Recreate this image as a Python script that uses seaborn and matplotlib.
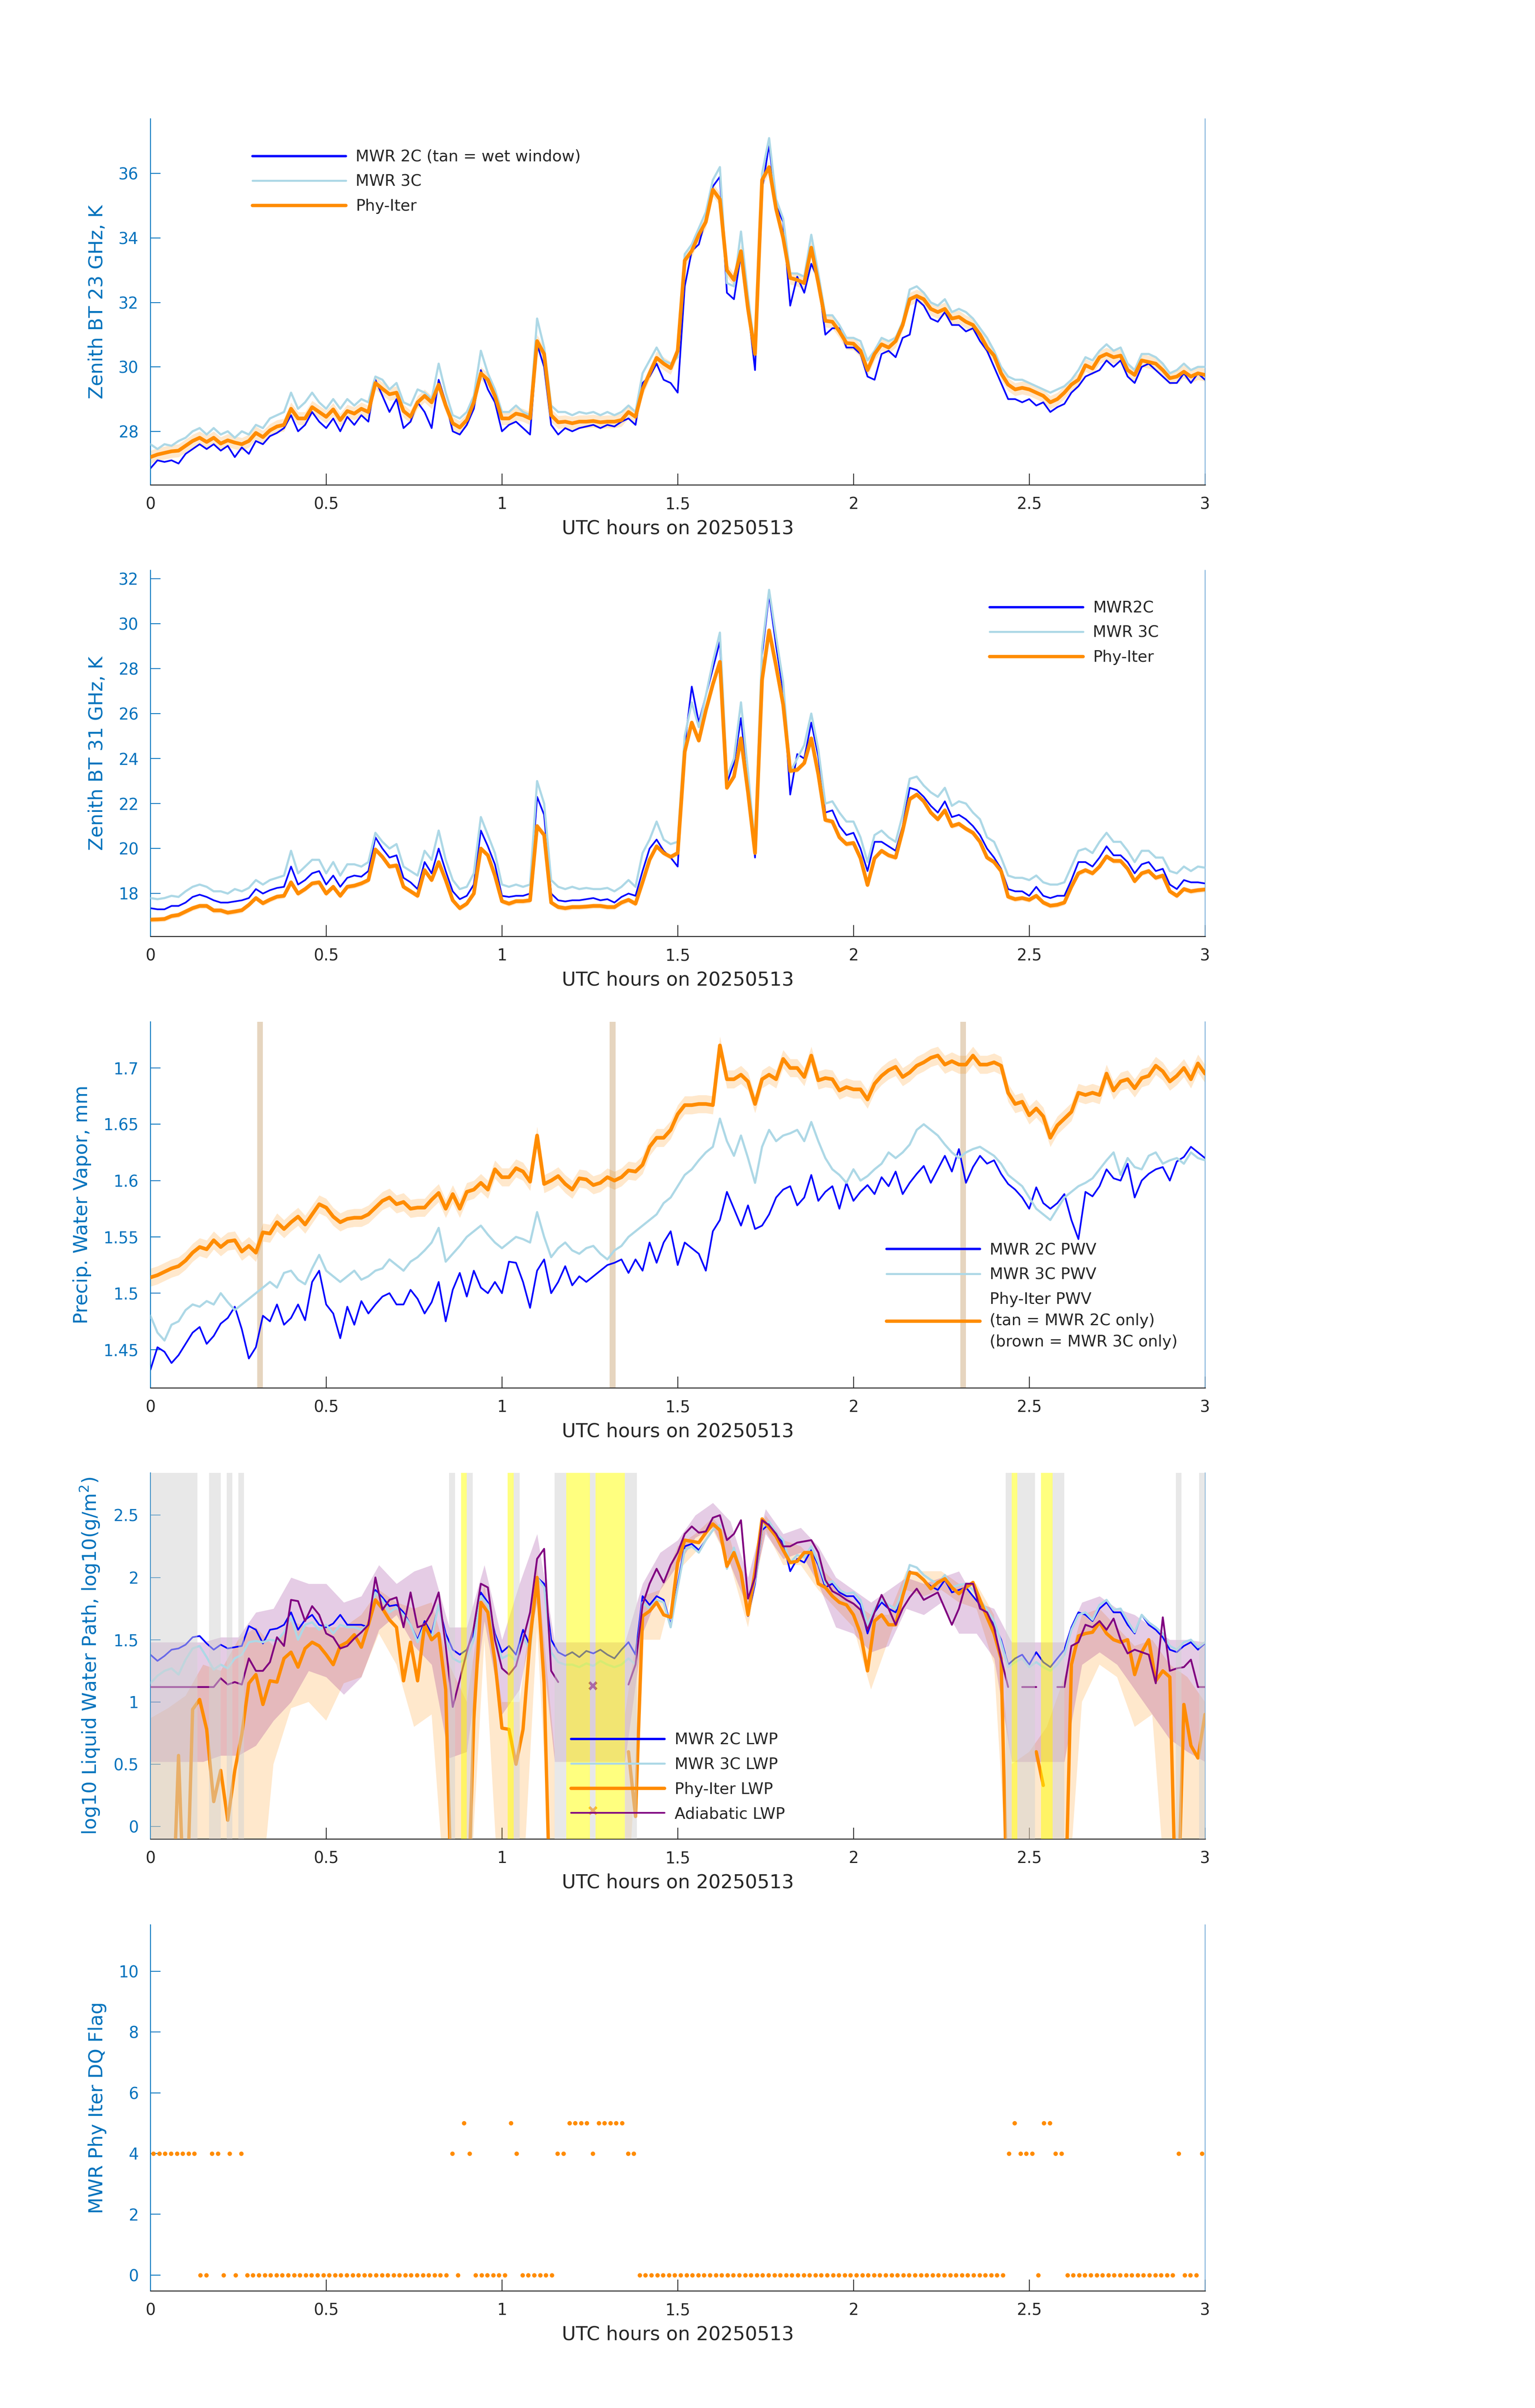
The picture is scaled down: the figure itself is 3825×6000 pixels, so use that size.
"""
Stacked MWR retrieval panels (23/31 GHz BT, PWV, LWP, DQ flag), 2025-05-13 00-03 UTC.
"""
import numpy as np
import matplotlib
matplotlib.use("Agg")
import matplotlib.pyplot as plt
import seaborn as sns
from matplotlib.lines import Line2D
from matplotlib.ticker import FuncFormatter

nan = np.nan

# traces sampled every 0.02 h
T_HOURS = np.round(np.arange(151) * 0.02, 2)

BT23_2C = [
    26.85, 27.10, 27.05, 27.10, 27.00, 27.30, 27.45, 27.60, 27.45, 27.60,
    27.40, 27.55, 27.20, 27.50, 27.30, 27.70, 27.60, 27.85, 27.95, 28.10,
    28.50, 28.00, 28.20, 28.60, 28.30, 28.10, 28.40, 28.00, 28.45, 28.20,
    28.50, 28.30, 29.60, 29.10, 28.60, 29.00, 28.10, 28.30, 28.90, 28.60,
    28.10, 29.60, 28.90, 28.00, 27.90, 28.20, 28.70, 29.90, 29.30, 28.90,
    28.00, 28.20, 28.30, 28.10, 27.90, 30.70, 30.00, 28.20, 27.90, 28.10,
    28.00, 28.10, 28.15, 28.20, 28.10, 28.20, 28.15, 28.30, 28.40, 28.20,
    29.50, 29.70, 30.10, 29.60, 29.50, 29.20, 32.50, 33.60, 33.80, 34.60,
    35.60, 35.90, 32.30, 32.10, 33.50, 31.80, 29.90, 35.50, 36.90, 35.00,
    34.50, 31.90, 32.80, 32.30, 33.20, 32.70, 31.00, 31.20, 31.20, 30.60,
    30.60, 30.40, 29.70, 29.60, 30.40, 30.50, 30.30, 30.90, 31.00, 32.10,
    31.90, 31.50, 31.40, 31.70, 31.30, 31.30, 31.10, 31.20, 30.80, 30.50,
    30.00, 29.50, 29.00, 29.00, 28.90, 29.00, 28.80, 28.90, 28.60, 28.75,
    28.85, 29.20, 29.40, 29.70, 29.80, 29.90, 30.20, 30.00, 30.20, 29.70,
    29.50, 30.00, 30.10, 29.90, 29.70, 29.50, 29.50, 29.80, 29.50, 29.80,
    29.60,
]
BT23_3C = [
    27.60, 27.45, 27.60, 27.55, 27.70, 27.80, 28.00, 28.10, 27.90, 28.10,
    27.90, 28.00, 27.80, 28.00, 27.90, 28.20, 28.10, 28.40, 28.50, 28.60,
    29.20, 28.70, 28.90, 29.20, 28.90, 28.70, 29.00, 28.70, 29.00, 28.80,
    29.00, 28.90, 29.70, 29.60, 29.30, 29.50, 28.90, 28.80, 29.30, 29.20,
    29.00, 30.10, 29.20, 28.50, 28.40, 28.60, 29.10, 30.50, 29.80, 29.30,
    28.60, 28.60, 28.80, 28.60, 28.50, 31.50, 30.60, 28.80, 28.60, 28.60,
    28.50, 28.60, 28.55, 28.60, 28.50, 28.60, 28.50, 28.60, 28.80, 28.60,
    29.80, 30.20, 30.60, 30.20, 30.10, 30.30, 33.50, 33.80, 34.30, 34.80,
    35.80, 36.20, 32.60, 32.50, 34.20, 32.20, 30.50, 36.00, 37.10, 35.20,
    34.60, 32.90, 32.90, 32.80, 34.10, 32.90, 31.60, 31.60, 31.30, 30.90,
    30.90, 30.80, 30.20, 30.50, 30.90, 30.80, 30.90, 31.40, 32.40, 32.50,
    32.30, 32.00, 31.90, 32.10, 31.70, 31.80, 31.70, 31.50, 31.20, 30.90,
    30.50, 30.00, 29.70, 29.60, 29.60, 29.50, 29.40, 29.30, 29.20, 29.30,
    29.40, 29.60, 29.90, 30.30, 30.20, 30.50, 30.70, 30.50, 30.60, 30.10,
    29.90, 30.40, 30.40, 30.30, 30.10, 29.80, 29.90, 30.10, 29.90, 30.00,
    30.00,
]
BT23_PHY = [
    27.20, 27.28, 27.33, 27.38, 27.40, 27.55, 27.70, 27.80, 27.67, 27.80,
    27.62, 27.72, 27.65, 27.60, 27.70, 27.95, 27.82, 28.03, 28.15, 28.20,
    28.70, 28.40, 28.40, 28.75, 28.60, 28.45, 28.68, 28.35, 28.63, 28.55,
    28.70, 28.60, 29.50, 29.32, 29.15, 29.20, 28.63, 28.45, 28.90, 29.10,
    28.90, 29.45, 28.80, 28.25, 28.12, 28.35, 28.90, 29.80, 29.60, 29.10,
    28.40, 28.40, 28.55, 28.50, 28.40, 30.80, 30.40, 28.50, 28.28, 28.30,
    28.25, 28.30, 28.30, 28.32, 28.28, 28.30, 28.30, 28.35, 28.60, 28.45,
    29.30, 29.80, 30.28, 30.10, 29.96, 30.50, 33.30, 33.60, 34.10, 34.50,
    35.50, 35.20, 33.00, 32.70, 33.59, 31.80, 30.40, 35.80, 36.20, 34.90,
    34.00, 32.76, 32.70, 32.60, 33.70, 32.60, 31.43, 31.40, 31.10, 30.74,
    30.72, 30.50, 29.90, 30.40, 30.70, 30.60, 30.80, 31.30, 32.10, 32.20,
    32.10, 31.80, 31.70, 31.80, 31.50, 31.55, 31.40, 31.30, 31.00, 30.60,
    30.35, 29.80, 29.45, 29.30, 29.35, 29.30, 29.20, 29.10, 28.90, 29.00,
    29.20, 29.45, 29.60, 30.05, 29.95, 30.30, 30.40, 30.30, 30.35, 29.90,
    29.75, 30.20, 30.15, 30.10, 29.90, 29.65, 29.70, 29.85, 29.70, 29.80,
    29.75,
]
BT23_PHY_SIG = 0.2

BT31_2C = [
    17.35, 17.30, 17.30, 17.45, 17.45, 17.60, 17.85, 17.95, 17.85, 17.70,
    17.60, 17.60, 17.65, 17.70, 17.80, 18.20, 18.00, 18.15, 18.25, 18.30,
    19.20, 18.40, 18.60, 18.90, 19.00, 18.40, 18.80, 18.30, 18.70, 18.80,
    18.75, 19.00, 20.50, 20.00, 19.60, 19.70, 18.70, 18.50, 18.20, 19.40,
    18.90, 20.00, 19.00, 18.10, 17.75, 17.90, 18.40, 20.80, 20.10, 19.30,
    17.90, 17.85, 17.90, 17.90, 18.00, 22.30, 21.50, 18.00, 17.70, 17.65,
    17.70, 17.70, 17.75, 17.80, 17.70, 17.75, 17.60, 17.85, 18.00, 17.90,
    19.00, 20.00, 20.40, 19.90, 19.60, 19.20, 24.60, 27.20, 25.60, 26.80,
    28.00, 29.20, 22.90, 23.80, 25.80, 22.80, 19.60, 28.60, 31.30, 29.00,
    27.00, 22.40, 24.20, 24.00, 25.60, 24.10, 21.60, 21.70, 21.00, 20.60,
    20.70, 20.00, 19.00, 20.30, 20.30, 20.10, 19.90, 21.00, 22.70, 22.60,
    22.30, 21.90, 21.60, 22.10, 21.40, 21.50, 21.30, 21.00, 20.60, 20.00,
    19.60, 19.10, 18.20, 18.10, 18.10, 17.90, 18.30, 17.90, 17.80, 17.90,
    17.90, 18.60, 19.40, 19.40, 19.20, 19.60, 20.10, 19.70, 19.70, 19.40,
    18.90, 19.30, 19.40, 19.00, 19.10, 18.40, 18.20, 18.60, 18.50, 18.50,
    18.45,
]
BT31_3C = [
    17.80, 17.75, 17.80, 17.90, 17.85, 18.10, 18.30, 18.40, 18.30, 18.10,
    18.10, 18.00, 18.20, 18.10, 18.25, 18.60, 18.40, 18.60, 18.70, 18.80,
    19.90, 18.90, 19.20, 19.50, 19.50, 18.90, 19.40, 18.80, 19.30, 19.30,
    19.20, 19.40, 20.70, 20.30, 20.00, 20.20, 19.20, 19.00, 18.80, 19.90,
    19.50, 20.80, 19.50, 18.60, 18.20, 18.30, 18.90, 21.40, 20.60, 19.80,
    18.40, 18.30, 18.40, 18.30, 18.40, 23.00, 22.00, 18.60, 18.30, 18.20,
    18.30, 18.20, 18.25, 18.20, 18.20, 18.25, 18.10, 18.30, 18.60, 18.30,
    19.80, 20.40, 21.20, 20.40, 20.20, 20.30, 25.00, 26.50, 25.40, 26.80,
    28.30, 29.60, 23.20, 24.00, 26.50, 23.40, 20.10, 28.90, 31.50, 29.40,
    27.40, 23.40, 24.00, 24.60, 26.00, 24.40, 22.00, 22.10, 21.60, 21.20,
    21.20, 20.50, 19.40, 20.60, 20.80, 20.50, 20.30, 21.50, 23.10, 23.20,
    22.80, 22.50, 22.30, 22.70, 21.90, 22.10, 22.00, 21.60, 21.30, 20.50,
    20.30, 19.60, 18.80, 18.70, 18.70, 18.60, 18.80, 18.50, 18.40, 18.40,
    18.50, 19.20, 19.90, 20.00, 19.80, 20.30, 20.70, 20.30, 20.30, 19.90,
    19.40, 19.90, 19.90, 19.60, 19.60, 19.00, 18.90, 19.20, 19.00, 19.20,
    19.15,
]
BT31_PHY = [
    16.84, 16.85, 16.87, 17.00, 17.05, 17.20, 17.35, 17.45, 17.45, 17.25,
    17.25, 17.15, 17.20, 17.26, 17.50, 17.80, 17.57, 17.73, 17.86, 17.90,
    18.50, 18.00, 18.20, 18.45, 18.50, 18.00, 18.30, 17.90, 18.30, 18.35,
    18.45, 18.60, 19.96, 19.63, 19.20, 19.25, 18.30, 18.10, 17.90, 19.04,
    18.60, 19.40, 18.60, 17.70, 17.35, 17.55, 18.00, 20.00, 19.70, 18.80,
    17.66, 17.55, 17.66, 17.66, 17.70, 21.00, 20.60, 17.60, 17.40, 17.35,
    17.40, 17.40, 17.42, 17.45, 17.45, 17.40, 17.40, 17.60, 17.72, 17.55,
    18.50, 19.50, 20.10, 19.80, 19.63, 19.80, 24.30, 25.60, 24.80, 26.14,
    27.30, 28.30, 22.70, 23.20, 24.90, 22.50, 19.80, 27.50, 29.70, 28.10,
    26.40, 23.45, 23.50, 23.80, 24.90, 23.30, 21.27, 21.20, 20.50, 20.20,
    20.25, 19.57, 18.38, 19.57, 19.90, 19.70, 19.60, 20.80, 22.20, 22.40,
    22.10, 21.60, 21.30, 21.70, 21.00, 21.10, 20.88, 20.70, 20.30, 19.60,
    19.40, 19.00, 17.86, 17.75, 17.80, 17.72, 17.90, 17.60, 17.46, 17.50,
    17.60, 18.30, 18.90, 19.04, 18.90, 19.20, 19.65, 19.45, 19.45, 19.10,
    18.55, 18.90, 19.00, 18.70, 18.80, 18.10, 17.90, 18.20, 18.10, 18.15,
    18.18,
]
BT31_PHY_SIG = 0.12

PWV_2C = [
    1.432, 1.452, 1.448, 1.438, 1.445, 1.455, 1.465, 1.470, 1.455, 1.462,
    1.473, 1.478, 1.488, 1.468, 1.442, 1.452, 1.480, 1.475, 1.490, 1.472,
    1.478, 1.490, 1.476, 1.510, 1.520, 1.490, 1.482, 1.460, 1.488, 1.472,
    1.493, 1.482, 1.490, 1.497, 1.500, 1.490, 1.490, 1.503, 1.495, 1.482,
    1.492, 1.510, 1.475, 1.503, 1.518, 1.497, 1.520, 1.505, 1.500, 1.510,
    1.500, 1.528, 1.527, 1.510, 1.487, 1.520, 1.530, 1.500, 1.510, 1.524,
    1.507, 1.515, 1.510, 1.515, 1.520, 1.525, 1.527, 1.530, 1.518, 1.530,
    1.520, 1.545, 1.527, 1.545, 1.555, 1.525, 1.545, 1.540, 1.535, 1.520,
    1.555, 1.565, 1.590, 1.575, 1.560, 1.578, 1.557, 1.560, 1.570, 1.585,
    1.592, 1.595, 1.578, 1.585, 1.605, 1.582, 1.590, 1.595, 1.575, 1.598,
    1.582, 1.590, 1.596, 1.588, 1.603, 1.595, 1.608, 1.588, 1.598, 1.606,
    1.613, 1.598, 1.610, 1.622, 1.608, 1.628, 1.598, 1.612, 1.622, 1.615,
    1.618, 1.606, 1.597, 1.592, 1.585, 1.575, 1.594, 1.580, 1.575, 1.580,
    1.588, 1.565, 1.548, 1.590, 1.586, 1.595, 1.610, 1.602, 1.600, 1.615,
    1.585, 1.600, 1.606, 1.610, 1.612, 1.600, 1.617, 1.621, 1.630, 1.625,
    1.620,
]
PWV_3C = [
    1.480, 1.465, 1.458, 1.472, 1.475, 1.485, 1.490, 1.488, 1.493, 1.490,
    1.500, 1.492, 1.485, 1.490, 1.495, 1.500, 1.505, 1.510, 1.505, 1.518,
    1.520, 1.512, 1.508, 1.522, 1.534, 1.520, 1.515, 1.510, 1.515, 1.520,
    1.512, 1.515, 1.520, 1.522, 1.530, 1.525, 1.520, 1.528, 1.532, 1.538,
    1.545, 1.558, 1.528, 1.535, 1.542, 1.550, 1.555, 1.560, 1.552, 1.545,
    1.540, 1.545, 1.550, 1.548, 1.545, 1.572, 1.550, 1.532, 1.540, 1.545,
    1.538, 1.535, 1.540, 1.542, 1.535, 1.530, 1.538, 1.542, 1.550, 1.555,
    1.560, 1.565, 1.570, 1.580, 1.585, 1.595, 1.605, 1.610, 1.618, 1.625,
    1.630, 1.655, 1.635, 1.622, 1.640, 1.620, 1.598, 1.630, 1.645, 1.635,
    1.640, 1.642, 1.645, 1.635, 1.652, 1.635, 1.620, 1.610, 1.605, 1.598,
    1.610, 1.600, 1.604, 1.610, 1.615, 1.625, 1.620, 1.625, 1.632, 1.645,
    1.650, 1.645, 1.640, 1.632, 1.625, 1.620, 1.625, 1.628, 1.630, 1.626,
    1.622, 1.615, 1.605, 1.600, 1.595, 1.585, 1.575, 1.570, 1.565, 1.575,
    1.585, 1.590, 1.595, 1.598, 1.602, 1.610, 1.618, 1.625, 1.605, 1.620,
    1.612, 1.610, 1.622, 1.625, 1.615, 1.618, 1.620, 1.615, 1.625, 1.620,
    1.618,
]
PWV_PHY = [
    1.514, 1.516, 1.519, 1.522, 1.524, 1.529, 1.536, 1.541, 1.539, 1.547,
    1.541, 1.546, 1.547, 1.537, 1.542, 1.536, 1.554, 1.553, 1.563, 1.557,
    1.563, 1.568, 1.561, 1.570, 1.579, 1.576, 1.568, 1.563, 1.566, 1.567,
    1.567, 1.570, 1.576, 1.582, 1.585, 1.579, 1.581, 1.575, 1.576, 1.576,
    1.583, 1.589, 1.575, 1.588, 1.575, 1.590, 1.592, 1.598, 1.592, 1.610,
    1.603, 1.603, 1.611, 1.608, 1.599, 1.640, 1.597, 1.600, 1.604, 1.597,
    1.592, 1.602, 1.601, 1.596, 1.598, 1.603, 1.600, 1.603, 1.609, 1.608,
    1.614, 1.630, 1.638, 1.638, 1.645, 1.659, 1.667, 1.667, 1.668, 1.668,
    1.667, 1.720, 1.690, 1.690, 1.694, 1.688, 1.668, 1.690, 1.694, 1.690,
    1.708, 1.700, 1.700, 1.692, 1.711, 1.689, 1.691, 1.690, 1.680, 1.683,
    1.681, 1.681, 1.672, 1.686, 1.693, 1.698, 1.701, 1.692, 1.696, 1.702,
    1.705, 1.709, 1.711, 1.703, 1.706, 1.703, 1.703, 1.711, 1.703, 1.703,
    1.705, 1.702, 1.678, 1.668, 1.670, 1.658, 1.664, 1.657, 1.638, 1.649,
    1.655, 1.661, 1.678, 1.676, 1.678, 1.676, 1.695, 1.680, 1.688, 1.690,
    1.682, 1.691, 1.693, 1.702, 1.697, 1.688, 1.693, 1.700, 1.690, 1.704,
    1.695,
]
PWV_PHY_SIG = 0.008
# centres of the one-minute "MWR 2C only" samples
TAN_T = [0.312, 1.315, 2.312]

# log10 LWP; -1 marks a retrieval of ~0 g/m2 (off the bottom of the axis)
LWP_2C = [
    1.38, 1.33, 1.37, 1.42, 1.43, 1.46, 1.52, 1.53, 1.47, 1.42,
    1.46, 1.43, 1.44, 1.45, 1.61, 1.58, 1.47, 1.58, 1.59, 1.62,
    1.72, 1.58, 1.66, 1.70, 1.62, 1.60, 1.63, 1.70, 1.62, 1.62,
    1.62, 1.60, 1.90, 1.84, 1.77, 1.78, 1.72, 1.62, 1.50, 1.65,
    1.55, 1.78, 1.55, 1.42, 1.38, 1.42, 1.55, 1.88, 1.80, 1.55,
    1.40, 1.45, 1.38, 1.58, 1.45, 2.00, 1.95, 1.50, 1.40, 1.37,
    1.40, 1.36, 1.41, 1.39, 1.42, 1.38, 1.35, 1.42, 1.48, 1.38,
    1.85, 1.78, 1.85, 1.82, 1.62, 1.95, 2.25, 2.27, 2.22, 2.30,
    2.38, 2.42, 2.07, 2.22, 2.02, 1.69, 1.95, 2.38, 2.43, 2.35,
    2.28, 2.05, 2.15, 2.12, 2.22, 2.10, 1.92, 1.95, 1.88, 1.85,
    1.85, 1.78, 1.55, 1.72, 1.80, 1.75, 1.72, 1.85, 2.05, 2.02,
    1.98, 1.93, 1.90, 1.98, 1.88, 1.90, 1.92, 1.85, 1.78, 1.70,
    1.62, 1.50, 1.30, 1.35, 1.38, 1.30, 1.40, 1.32, 1.28, 1.35,
    1.42, 1.60, 1.72, 1.70, 1.65, 1.75, 1.80, 1.72, 1.72, 1.62,
    1.55, 1.70, 1.62, 1.58, 1.52, 1.42, 1.40, 1.45, 1.48, 1.42,
    1.47,
]
LWP_3C = [
    1.15, 1.21, 1.25, 1.27, 1.22, 1.34, 1.43, 1.45, 1.36, 1.26,
    1.30, 1.27, 1.35, 1.38, 1.48, 1.49, 1.48, 1.50, 1.49, 1.56,
    1.68, 1.50, 1.62, 1.64, 1.58, 1.62, 1.55, 1.62, 1.60, 1.60,
    1.58, 1.62, 1.88, 1.82, 1.72, 1.76, 1.70, 1.62, 1.48, 1.62,
    1.52, 1.78, 1.50, 1.35, 1.32, 1.35, 1.50, 1.85, 1.78, 1.52,
    1.35, 1.38, 1.33, 1.52, 1.42, 2.00, 1.92, 1.40, 1.32, 1.30,
    1.30, 1.28, 1.31, 1.29, 1.33, 1.30, 1.28, 1.30, 1.35, 1.30,
    1.80, 1.75, 1.82, 1.80, 1.60, 1.92, 2.22, 2.25, 2.20, 2.30,
    2.38, 2.42, 2.07, 2.24, 2.05, 1.72, 1.98, 2.40, 2.45, 2.36,
    2.30, 2.12, 2.18, 2.16, 2.25, 2.12, 1.95, 1.97, 1.90, 1.87,
    1.88, 1.82, 1.62, 1.75, 1.82, 1.78, 1.75, 1.90, 2.10, 2.08,
    2.02, 1.98, 1.95, 2.02, 1.92, 1.94, 1.95, 1.90, 1.82, 1.74,
    1.65, 1.48, 1.28, 1.32, 1.35, 1.28, 1.32, 1.28, 1.25, 1.30,
    1.38, 1.58, 1.70, 1.72, 1.66, 1.78, 1.82, 1.74, 1.75, 1.65,
    1.56, 1.70, 1.64, 1.60, 1.55, 1.45, 1.42, 1.48, 1.50, 1.44,
    1.48,
]
LWP_PHY = [
    -1, -1, -1, -1, 0.57, -1, 0.94, 1.02, 0.78, 0.20,
    0.45, 0.05, 0.45, 0.74, 1.15, 1.22, 0.98, 1.17, 1.16, 1.35,
    1.40, 1.28, 1.43, 1.48, 1.45, 1.38, 1.30, 1.45, 1.48, 1.54,
    1.44, 1.62, 1.82, 1.75, 1.66, 1.60, 1.17, 1.48, 1.17, 1.62,
    1.50, 1.55, 1.10, -1, -1, -1, 0.86, 1.80, 1.72, 1.33,
    0.79, 0.78, 0.50, 0.78, 1.50, 2.00, 1.15, -1, nan, nan,
    nan, nan, nan, nan, nan, nan, nan, nan, 0.60, 0.08,
    1.69, 1.73, 1.80, 1.70, 1.68, 2.12, 2.30, 2.29, 2.28, 2.36,
    2.43, 2.38, 2.09, 2.20, 2.04, 1.70, 2.05, 2.47, 2.40, 2.33,
    2.22, 2.12, 2.13, 2.20, 2.20, 1.95, 1.92, 1.85, 1.80, 1.78,
    1.70, 1.55, 1.25, 1.65, 1.70, 1.62, 1.62, 1.85, 2.04, 2.03,
    1.98, 1.91, 1.96, 1.99, 1.92, 1.87, 1.92, 1.96, 1.82, 1.68,
    1.55, 1.35, -1, nan, nan, nan, 0.60, 0.33, nan, nan,
    -1, 1.30, 1.53, 1.55, 1.56, 1.64, 1.55, 1.50, 1.48, 1.50,
    1.22, 1.40, 1.50, 1.17, 1.25, 1.20, -1, 0.98, 0.65, 0.55,
    0.90,
]
LWP_ADI = [
    1.12, 1.12, 1.12, 1.12, 1.12, 1.12, 1.12, 1.12, 1.12, 1.12,
    1.19, 1.14, 1.16, 1.14, 1.35, 1.25, 1.25, 1.32, 1.52, 1.45,
    1.82, 1.81, 1.65, 1.77, 1.70, 1.55, 1.52, 1.43, 1.45, 1.51,
    1.56, 1.62, 2.00, 1.74, 1.82, 1.84, 1.60, 1.88, 1.60, 1.62,
    1.72, 1.88, 1.45, 0.96, 1.18, 1.40, 1.60, 1.95, 1.92, 1.50,
    1.27, 1.22, 1.29, 1.50, 1.72, 2.15, 2.23, 1.25, 1.16, nan,
    nan, nan, nan, nan, nan, nan, nan, nan, 1.14, 1.30,
    1.78, 1.95, 2.07, 1.96, 2.10, 2.20, 2.35, 2.41, 2.36, 2.37,
    2.48, 2.50, 2.30, 2.35, 2.46, 1.83, 2.00, 2.46, 2.42, 2.35,
    2.25, 2.25, 2.28, 2.29, 2.30, 2.20, 1.98, 1.89, 1.86, 1.82,
    1.79, 1.74, 1.58, 1.72, 1.86, 1.75, 1.62, 1.75, 1.84, 1.91,
    1.82, 1.85, 1.88, 1.75, 1.62, 1.75, 1.95, 1.95, 1.75, 1.72,
    1.60, 1.35, 1.12, nan, 1.12, 1.12, 1.12, nan, nan, 1.12,
    1.12, 1.45, 1.48, 1.62, 1.60, 1.65, 1.58, 1.67, 1.50, 1.39,
    1.42, 1.40, 1.38, 1.15, 1.68, 1.25, 1.27, 1.28, 1.34, 1.12,
    1.12,
]
# isolated single samples drawn as crosses
ISO_T = 1.258
ISO_ADI = 1.13
ISO_PHY = 0.13

# uncertainty envelopes, read every 0.05 h
BAND_T = np.round(np.arange(61) * 0.05, 2)
ADI_LO = [
    0.52, 0.52, 0.52, 0.52, 0.57, 0.57, 0.65, 0.85, 1.00, 1.25,
    1.20, 1.06, 1.20, 1.58, 1.70, 1.45, 1.30, 0.55, 0.60, 1.65,
    0.90, 1.10, 1.80, 0.52, 0.52, 0.52, 0.52, 0.52, 1.55, 1.90,
    2.10, 2.32, 2.40, 2.10, 1.75, 2.35, 2.15, 2.20, 1.95, 1.60,
    1.55, 1.40, 1.45, 1.75, 1.70, 1.80, 1.55, 1.55, 1.35, 0.52,
    0.52, 0.52, 0.52, 1.30, 1.40, 1.30, 1.10, 0.90, 0.70, 0.60,
    0.52,
]
ADI_HI = [
    1.48, 1.48, 1.48, 1.48, 1.52, 1.52, 1.72, 1.75, 2.00, 1.95,
    1.95, 1.80, 1.85, 2.10, 1.95, 2.05, 2.10, 1.60, 1.60, 2.10,
    1.50, 1.95, 2.35, 1.48, 1.48, 1.48, 1.48, 1.48, 1.95, 2.20,
    2.30, 2.50, 2.60, 2.45, 2.00, 2.55, 2.35, 2.40, 2.25, 2.00,
    1.90, 1.80, 1.90, 2.00, 1.95, 2.00, 2.05, 1.80, 1.75, 1.48,
    1.48, 1.48, 1.48, 1.80, 1.85, 1.75, 1.70, 1.60, 1.50, 1.50,
    1.48,
]
PHY_LO = [
    -1, -1, -1, -1, -1, -1, -1, 0.50, 0.95, 1.00,
    0.85, 1.15, 1.20, 1.55, 1.30, 0.80, 0.90, -1, -1, 1.50,
    -1, -1, 1.60, -1, nan, nan, nan, -1, 1.50, 1.50,
    2.05, 2.20, 2.38, 2.10, 1.60, 2.38, 2.10, 2.10, 1.90, 1.75,
    1.60, 1.10, 1.50, 1.90, 1.85, 1.90, 1.80, 1.75, 1.30, -1,
    -1, -1, -1, 1.00, 1.30, 1.20, 0.80, 0.90, -1, -1,
    -1,
]
PHY_HI = [
    0.87, 0.95, 1.05, 1.30, 1.25, 1.50, 1.60, 1.45, 1.65, 1.60,
    1.60, 1.60, 1.70, 1.90, 1.80, 1.75, 1.80, 1.30, 1.00, 1.95,
    1.00, 1.00, 2.10, 0.60, nan, nan, nan, 0.90, 1.85, 1.90,
    2.25, 2.35, 2.48, 2.30, 1.80, 2.50, 2.30, 2.25, 2.10, 1.95,
    1.80, 1.70, 1.70, 2.05, 2.05, 2.05, 1.95, 1.95, 1.70, 0.50,
    0.60, 0.80, 1.20, 1.70, 1.75, 1.60, 1.45, 1.50, 1.30, 1.20,
    1.00,
]

# one-minute Phy-Iter data-quality flag, as (value, number of minutes)
FLAG_RUNS = [
    (4, 8), (0, 2), (4, 2), (0, 1), (4, 1), (0, 1), (4, 1), (0, 35),
    (4, 1), (0, 1), (5, 1), (4, 1), (0, 6), (5, 1), (4, 1), (0, 6),
    (4, 2), (5, 4), (4, 1), (5, 5), (4, 2), (0, 63), (4, 1), (5, 1),
    (4, 3), (0, 1), (5, 2), (4, 2), (0, 19), (4, 1), (0, 3), (4, 2),
]

BLUE = "#0000FF"
LBLUE = "#ADD8E6"
ORANGE = "#FF8C00"
PURPLE = "#800080"
AX_BLUE = "#0072BD"
DARK = "#262626"
XLABEL = "UTC hours on 20250513"


def style_axes(ax, ylabel, ylim, yticks):
    """MATLAB-like look: blue left axis, inward ticks, no top line."""
    fmt = FuncFormatter(lambda v, p: f"{v:g}")
    ax.set_xlim(0, 3)
    ax.set_ylim(*ylim)
    ax.set_xticks(np.arange(0, 3.01, 0.5))
    ax.set_yticks(yticks)
    ax.xaxis.set_major_formatter(fmt)
    ax.yaxis.set_major_formatter(fmt)
    ax.grid(False)
    ax.spines["top"].set_visible(False)
    ax.spines["left"].set_color(AX_BLUE)
    ax.spines["left"].set_linewidth(0.5)
    ax.spines["right"].set_visible(True)
    ax.spines["right"].set_color("#5A9BCF")
    ax.spines["right"].set_linewidth(0.4)
    ax.spines["bottom"].set_color(DARK)
    ax.spines["bottom"].set_linewidth(0.6)
    ax.tick_params(axis="x", direction="in", length=6.7, width=0.5, colors=DARK,
                   labelsize=9.5, pad=7, top=False, bottom=True)
    ax.tick_params(axis="y", direction="in", length=6, width=0.5, colors=AX_BLUE,
                   labelsize=9.5, pad=7, left=True, right=False)
    ax.set_ylabel(ylabel, color=AX_BLUE, fontsize=11.5, labelpad=7)
    ax.set_xlabel(XLABEL, color=DARK, fontsize=11.5, labelpad=4)


def add_legend(ax, handles, labels, x0, yc):
    leg = ax.legend(handles, labels, loc="center left", bbox_to_anchor=(x0, yc),
                    frameon=False, fontsize=9.4, handlelength=5.95, handletextpad=0.62,
                    labelspacing=0.6, borderpad=0, borderaxespad=0)
    for txt in leg.get_texts():
        txt.set_linespacing(1.5)
    leg.set_zorder(20)
    return leg


def merged_spans(times, flags, value, half):
    """Contiguous [start, end] ranges where flags == value."""
    spans = []
    for t, f in zip(times, flags):
        if f != value:
            continue
        if spans and abs(spans[-1][1] - (t - half)) < 1e-6:
            spans[-1][1] = t + half
        else:
            spans.append([t - half, t + half])
    return spans


sns.set_theme(style="white")
plt.rcParams["font.family"] = ["DejaVu Sans"]
plt.rcParams["mathtext.fontset"] = "dejavusans"

fig = plt.figure(figsize=(12.75, 20), dpi=300)
AX_LEFT, AX_W, AX_H = 0.098, 0.687, 0.152
BOTTOMS = [0.79867, 0.61117, 0.42367, 0.23633, 0.04867]
axes = [fig.add_axes([AX_LEFT, b, AX_W, AX_H]) for b in BOTTOMS]

h2c = Line2D([], [], color=BLUE, lw=1.4)
h3c = Line2D([], [], color=LBLUE, lw=1.2)
hphy = Line2D([], [], color=ORANGE, lw=2.0)
hadi = Line2D([], [], color=PURPLE, lw=1.0)

# --- panel 1: 23 GHz
ax = axes[0]
phy = np.array(BT23_PHY)
ax.fill_between(T_HOURS, phy - BT23_PHY_SIG, phy + BT23_PHY_SIG, color=ORANGE,
                alpha=0.2, lw=0, zorder=1)
sns.lineplot(x=T_HOURS, y=BT23_2C, ax=ax, color=BLUE, lw=1.0, estimator=None, zorder=2)
sns.lineplot(x=T_HOURS, y=BT23_3C, ax=ax, color=LBLUE, lw=1.3, estimator=None, zorder=3)
sns.lineplot(x=T_HOURS, y=BT23_PHY, ax=ax, color=ORANGE, lw=2.2, estimator=None, zorder=4)
style_axes(ax, "Zenith BT 23 GHz, K", (26.34, 37.70), [28, 30, 32, 34, 36])
add_legend(ax, [h2c, h3c, hphy], ["MWR 2C (tan = wet window)", "MWR 3C", "Phy-Iter"],
           0.0967, 0.828)

# --- panel 2: 31 GHz
ax = axes[1]
phy = np.array(BT31_PHY)
ax.fill_between(T_HOURS, phy - BT31_PHY_SIG, phy + BT31_PHY_SIG, color=ORANGE,
                alpha=0.2, lw=0, zorder=1)
sns.lineplot(x=T_HOURS, y=BT31_2C, ax=ax, color=BLUE, lw=1.0, estimator=None, zorder=2)
sns.lineplot(x=T_HOURS, y=BT31_3C, ax=ax, color=LBLUE, lw=1.3, estimator=None, zorder=3)
sns.lineplot(x=T_HOURS, y=BT31_PHY, ax=ax, color=ORANGE, lw=2.2, estimator=None, zorder=4)
style_axes(ax, "Zenith BT 31 GHz, K", (16.10, 32.37), list(range(18, 33, 2)))
add_legend(ax, [h2c, h3c, hphy], ["MWR2C", "MWR 3C", "Phy-Iter"], 0.7957, 0.829)

# --- panel 3: PWV
ax = axes[2]
for tc in TAN_T:
    ax.axvspan(tc - 1 / 120, tc + 1 / 120, color="tan", alpha=0.55, lw=0, zorder=0.5)
phy = np.array(PWV_PHY)
ax.fill_between(T_HOURS, phy - PWV_PHY_SIG, phy + PWV_PHY_SIG, color=ORANGE,
                alpha=0.2, lw=0, zorder=1)
sns.lineplot(x=T_HOURS, y=PWV_2C, ax=ax, color=BLUE, lw=1.0, estimator=None, zorder=2)
sns.lineplot(x=T_HOURS, y=PWV_3C, ax=ax, color=LBLUE, lw=1.3, estimator=None, zorder=3)
sns.lineplot(x=T_HOURS, y=PWV_PHY, ax=ax, color=ORANGE, lw=2.2, estimator=None, zorder=4)
style_axes(ax, "Precip. Water Vapor, mm", (1.416, 1.741), np.arange(1.45, 1.701, 0.05))
add_legend(ax, [h2c, h3c, hphy],
           ["MWR 2C PWV", "MWR 3C PWV",
            "Phy-Iter PWV\n(tan = MWR 2C only)\n(brown = MWR 3C only)"],
           0.698, 0.2505)

# --- panel 4: LWP
ax = axes[3]
ax.fill_between(BAND_T, PHY_LO, PHY_HI, color=ORANGE, alpha=0.2, lw=0, zorder=1)
ax.fill_between(BAND_T, ADI_LO, ADI_HI, color=PURPLE, alpha=0.2, lw=0, zorder=1.1)
ax.plot(T_HOURS, LWP_2C, color=BLUE, lw=1.0, zorder=2)
ax.plot(T_HOURS, LWP_3C, color=LBLUE, lw=1.3, zorder=3)
ax.plot(T_HOURS, LWP_PHY, color=ORANGE, lw=2.0, zorder=4)
ax.plot(T_HOURS, LWP_ADI, color=PURPLE, lw=1.1, zorder=4.5)
ax.plot([ISO_T], [ISO_ADI], ls="none", marker="x", ms=4.5, mew=1.6, color=PURPLE, zorder=4.6)
ax.plot([ISO_T], [ISO_PHY], ls="none", marker="x", ms=4.5, mew=1.6, color=ORANGE, zorder=4.6)

flags = np.concatenate([[v] * n for v, n in FLAG_RUNS])
flag_t = (np.arange(len(flags)) + 0.5) / 60.0
for value, colour in ((4, "lightgray"), (5, "yellow")):
    for a, b in merged_spans(flag_t, flags, value, 1 / 120):
        ax.axvspan(a, b, color=colour, alpha=0.5, lw=0, zorder=6)
style_axes(ax, "log10 Liquid Water Path, log10(g/m$^2$)", (-0.10, 2.84),
           [0, 0.5, 1, 1.5, 2, 2.5])
add_legend(ax, [h2c, h3c, hphy, hadi],
           ["MWR 2C LWP", "MWR 3C LWP", "Phy-Iter LWP", "Adiabatic LWP"], 0.399, 0.169)

# --- panel 5: DQ flag
ax = axes[4]
sns.scatterplot(x=flag_t, y=flags, ax=ax, color=ORANGE, s=7, linewidth=0, zorder=3)
style_axes(ax, "MWR Phy Iter DQ Flag", (-0.52, 11.53), [0, 2, 4, 6, 8, 10])

fig.savefig("out.png", dpi=300)
